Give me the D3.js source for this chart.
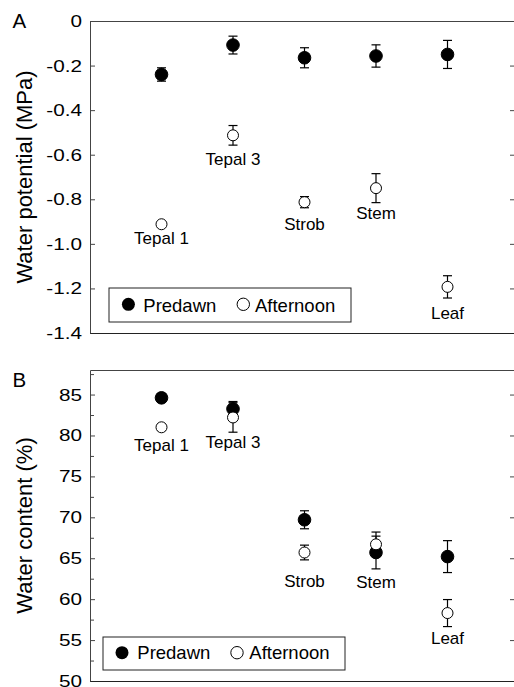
<!DOCTYPE html>
<html><head><meta charset="utf-8">
<script src="https://cdn.jsdelivr.net/npm/d3@7"></script>
<style>
body{margin:0;background:#fff}
svg{display:block}
text{font-family:"Liberation Sans",Arial,Helvetica,sans-serif;fill:#000}
</style>
</head><body>
<svg id="chart" width="514" height="687"></svg>
<script>
// ---------- DATA ----------
const categories = ["Tepal 1", "Tepal 3", "Strob", "Stem", "Leaf"];
const seriesNames = ["Predawn", "Afternoon"];

// Panel A: water potential (MPa)
const potPredawn      = [-0.24, -0.108, -0.165, -0.157, -0.15];
const potPredawnErr   = [0.03, 0.04, 0.045, 0.05, 0.063];
const potAfternoon    = [-0.912, -0.513, -0.813, -0.75, -1.193];
const potAfternoonErr = [0.01, 0.044, 0.025, 0.065, 0.05];
const potTicks      = [0, -0.2, -0.4, -0.6, -0.8, -1.0, -1.2, -1.4];
const potTickLabels = ["0", "-0.2", "-0.4", "-0.6", "-0.8", "-1.0", "-1.2", "-1.4"];

// Panel B: water content (%)
const wcPredawn      = [84.6, 83.25, 69.7, 65.7, 65.2];
const wcPredawnErr   = [0.5, 0.9, 1.1, 2.0, 1.95];
const wcAfternoon    = [81.0, 82.2, 65.7, 66.7, 58.3];
const wcAfternoonErr = [0.4, 1.8, 0.9, 1.5, 1.65];
const wcTicks      = [50, 55, 60, 65, 70, 75, 80, 85];
const wcTickLabels = ["50", "55", "60", "65", "70", "75", "80", "85"];
const wcMinorTicks = [52.5, 57.5, 62.5, 67.5, 72.5, 77.5, 82.5, 87.5];

// ---------- LAYOUT ----------
const svg = d3.select("#chart");
const left = 90, rightAxisX = 515, xEnd = 519;
const frameColor = "#444";

const x = d3.scalePoint().domain(categories).range([left, xEnd]).padding(1);

const panels = [
  { letter: "A", top: 21, bottom: 333, domain: [-1.4, 0],
    pre: potPredawn, preErr: potPredawnErr, aft: potAfternoon, aftErr: potAfternoonErr,
    ticks: potTicks, tickLabels: potTickLabels, minor: [],
    title: "Water potential (MPa)", letterY: 28,
    labelGap: [14, 20, 22, 16, 21],
    legend: { x: 109, y: 288, w: 242, h: 34, c1: 128.4, t1: 143.3, c2: 243.3, t2: 255, cy: 304.3, base: 311.7 } },
  { letter: "B", top: 370, bottom: 681, domain: [50, 88],
    pre: wcPredawn, preErr: wcPredawnErr, aft: wcAfternoon, aftErr: wcAfternoonErr,
    ticks: wcTicks, tickLabels: wcTickLabels, minor: wcMinorTicks,
    title: "Water content (%)", letterY: 386.5,
    labelGap: [18, 16, 27, 19, 17],
    legend: { x: 103, y: 637, w: 242, h: 33, c1: 122, t1: 137.3, c2: 237, t2: 249.3, cy: 652.7, base: 659 } }
];

panels.forEach(p => {
  const y = d3.scaleLinear().domain(p.domain).range([p.bottom, p.top]);
  const g = svg.append("g");

  // left axis (inward ticks)
  const ax = g.append("g").attr("transform", `translate(${left},0)`)
    .call(d3.axisLeft(y).tickValues(p.ticks).tickFormat((d, i) => p.tickLabels[i])
      .tickSizeInner(-5).tickSizeOuter(0).tickPadding(8));
  ax.select(".domain").attr("stroke", frameColor);
  ax.selectAll(".tick line").attr("stroke", frameColor);
  ax.selectAll(".tick text")
    .attr("font-size", 17).attr("font-family", null)
    .attr("x", -8 / 1.22).attr("transform", "scale(1.22,1)");
  ax.attr("font-family", null);

  if (p.minor.length) {
    const mn = g.append("g").attr("transform", `translate(${left},0)`)
      .call(d3.axisLeft(y).tickValues(p.minor).tickFormat("").tickSizeInner(-4).tickSizeOuter(0));
    mn.select(".domain").remove();
    mn.selectAll(".tick line").attr("stroke", frameColor);
  }

  // right axis
  const rx = g.append("g").attr("transform", `translate(${rightAxisX},0)`)
    .call(d3.axisRight(y).tickValues(p.ticks).tickFormat("").tickSizeInner(-5).tickSizeOuter(0));
  rx.select(".domain").attr("stroke", frameColor);
  rx.selectAll(".tick line").attr("stroke", frameColor);

  // bottom and top frame
  const bx = g.append("g").attr("transform", `translate(0,${p.bottom})`)
    .call(d3.axisBottom(x).tickSize(0).tickFormat(""));
  bx.select(".domain").attr("stroke", "#222");
  const tx = g.append("g").attr("transform", `translate(0,${p.top})`)
    .call(d3.axisTop(x).tickSize(0).tickFormat(""));
  tx.select(".domain").attr("stroke", frameColor);

  // titles
  g.append("text")
    .attr("transform", `translate(31.5,${(p.top + p.bottom) / 2}) rotate(-90)`)
    .attr("text-anchor", "middle").attr("font-size", 22).text(p.title);
  g.append("text").attr("x", 12.5).attr("y", p.letterY)
    .attr("font-size", 20.5).text(p.letter);

  // series
  const series = [
    { vals: p.pre, err: p.preErr, fill: "#000", r: 6.3 },
    { vals: p.aft, err: p.aftErr, fill: "#fff", r: 5.5 }
  ];
  series.forEach(s => {
    const eg = g.append("g").attr("stroke", "#000").attr("stroke-width", 1.2);
    categories.forEach((c, i) => {
      const cx = x(c), y1 = y(s.vals[i] + s.err[i]), y2 = y(s.vals[i] - s.err[i]);
      eg.append("line").attr("x1", cx).attr("x2", cx).attr("y1", y1).attr("y2", y2);
      eg.append("line").attr("x1", cx - 4.5).attr("x2", cx + 4.5).attr("y1", y1).attr("y2", y1);
      eg.append("line").attr("x1", cx - 4.5).attr("x2", cx + 4.5).attr("y1", y2).attr("y2", y2);
    });
    g.append("g").selectAll("circle").data(s.vals).join("circle")
      .attr("cx", (d, i) => x(categories[i])).attr("cy", d => y(d))
      .attr("r", s.r).attr("fill", s.fill).attr("stroke", "#000").attr("stroke-width", 1);
  });

  // category labels below the lowest element
  categories.forEach((c, i) => {
    const low = Math.max(
      y(p.pre[i]) + 6.3, y(p.pre[i] - p.preErr[i]),
      y(p.aft[i]) + 6, y(p.aft[i] - p.aftErr[i]));
    g.append("text").attr("x", x(c)).attr("y", low + p.labelGap[i])
      .attr("text-anchor", "middle").attr("font-size", 17).text(c);
  });

  // legend
  const L = p.legend;
  const lg = g.append("g");
  lg.append("rect").attr("x", L.x).attr("y", L.y).attr("width", L.w).attr("height", L.h)
    .attr("fill", "#fff").attr("stroke", "#222").attr("stroke-width", 1);
  lg.append("circle").attr("cx", L.c1).attr("cy", L.cy).attr("r", 6.5).attr("fill", "#000");
  lg.append("text").attr("x", L.t1).attr("y", L.base).attr("font-size", 18.5).text(seriesNames[0]);
  lg.append("circle").attr("cx", L.c2).attr("cy", L.cy).attr("r", 6.2)
    .attr("fill", "#fff").attr("stroke", "#000").attr("stroke-width", 1);
  lg.append("text").attr("x", L.t2).attr("y", L.base).attr("font-size", 18.5).text(seriesNames[1]);
});
</script>
</body></html>
